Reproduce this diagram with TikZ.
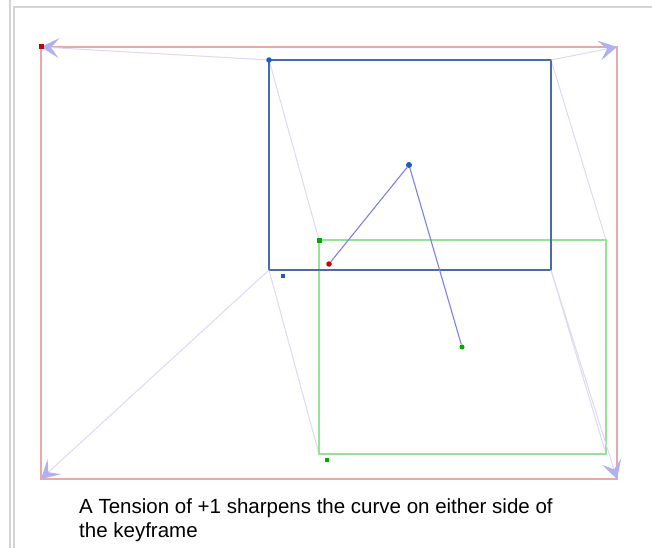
\documentclass[tikz,border=0pt]{standalone}
\usepackage{fontspec}
\setmainfont{Liberation Sans}
\usetikzlibrary{arrows.meta}
\definecolor{framec}{RGB}{212,212,212}
\definecolor{redc}{RGB}{234,168,168}
\definecolor{bluec}{RGB}{72,108,168}
\definecolor{greenc}{RGB}{150,226,150}
\definecolor{linkc}{RGB}{128,128,222}
\definecolor{faintc}{RGB}{218,218,248}
\definecolor{tipc}{RGB}{176,176,242}
\definecolor{bdotc}{RGB}{30,90,200}
\definecolor{rdotc}{RGB}{200,0,0}
\definecolor{gdotc}{RGB}{0,170,0}
\tikzset{
  framel/.style={draw=framec, line width=2pt},
  redrect/.style={draw=redc, line width=1.6pt},
  bluerect/.style={draw=bluec, line width=2pt},
  greenrect/.style={draw=greenc, line width=1.3pt},
  linkl/.style={draw=linkc, line width=1.1pt},
  faintl/.style={draw=faintc, line width=1pt},
  tipl/.style={faintl, -{Stealth[length=18pt,width=20pt,inset=8pt,color=tipc]}},
  dotc/.style={circle, inner sep=0pt, minimum size=6pt, fill=#1},
  dots/.style={rectangle, inner sep=0pt, minimum size=5pt, fill=#1},
  caption/.style={anchor=base west, inner sep=0pt, font=\fontsize{20.5}{24}\selectfont}
}
\begin{document}
\begin{tikzpicture}[x=1pt,y=-1pt]
\useasboundingbox (0,0) rectangle (652,548);
\fill[white] (0,0) rectangle (652,548);
% page frame
\coordinate (f1) at (10,0);
\coordinate (f2) at (10,548);
\coordinate (f3) at (14,548);
\coordinate (f4) at (14,7);
\coordinate (f5) at (652,7);
\draw[framel] (f1) -- (f2);
\draw[framel] (f3) -- (f4) -- (f5);
% corners
\coordinate (rTL) at (41,47);
\coordinate (rTR) at (617,47);
\coordinate (rBL) at (41,479);
\coordinate (rBR) at (617,479);
\coordinate (bTL) at (269,60);
\coordinate (bTR) at (551,60);
\coordinate (bBL) at (269,270);
\coordinate (bBR) at (551,270);
\coordinate (gTL) at (319,240);
\coordinate (gTR) at (606,240);
\coordinate (gBL) at (319,454);
\coordinate (gBR) at (606,454);
% faint lines blue -> green
\draw[faintl] (bTL) -- (gTL);
\draw[faintl] (bTR) -- (gTR);
\draw[faintl] (bBL) -- (gBL);
\draw[faintl] (bBR) -- (gBR);
% rectangles
\draw[redrect] (rTL) rectangle (rBR);
\draw[greenrect] (gTL) rectangle (gBR);
\draw[bluerect] (bTL) rectangle (bBR);
% arrows blue -> red
\draw[tipl] (bTL) -- (rTL);
\draw[tipl] (bTR) -- (rTR);
\draw[tipl] (bBL) -- (rBL);
\draw[tipl] (bBR) -- (rBR);
% points
\node[dotc=bdotc] (bc) at (409,165) {};
\node[dotc=rdotc, minimum size=5.5pt] (rd) at (329,264) {};
\node[dotc=gdotc, minimum size=5pt] (gd) at (462,347) {};
\draw[linkl] (bc) -- (rd);
\draw[linkl] (bc) -- (gd);
\node[dotc=bdotc, minimum size=5.5pt] (bcorner) at (bTL) {};
\node[dots=gdotc] (gcorner) at (gTL) {};
\node[dots=rdotc] (rcorner) at (rTL) {};
\node[dots=bdotc, minimum size=4.5pt] (bsq) at (283,276) {};
\node[dots=gdotc, minimum size=4.5pt] (gsq) at (327,460) {};
% caption
\node[caption] (cap1) at (79,513) {A Tension of +1 sharpens the curve on either side of};
\node[caption] (cap2) at (79,537) {the keyframe};
\end{tikzpicture}
\end{document}
